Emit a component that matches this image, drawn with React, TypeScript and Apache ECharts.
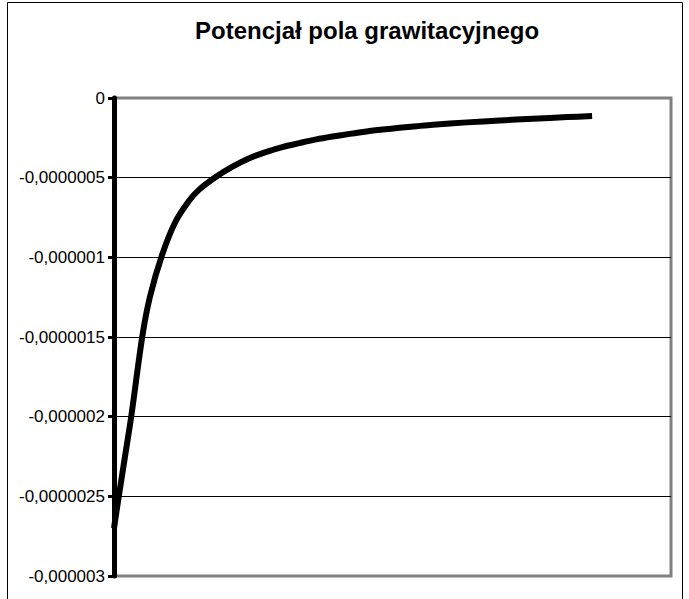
import React, { useEffect, useRef } from "react";
import * as echarts from "echarts";

const titleText = "Potencjał pola grawitacyjnego";

// distance (arbitrary units) and potential values
const distance = [
  0, 1, 2.3, 3.6, 5.9, 7.5, 10, 12.8, 15.7, 17.8, 21.2, 24.7, 28.3, 31.9, 35.2,
  38.8, 42.3, 45.7, 49.3, 52.8, 56.2, 59.7, 63.3, 66.7, 73.8, 80.7, 87.6, 94.8, 100,
];
const potential = [
  -2.7e-6, -2.5e-6, -2.25e-6, -2.0e-6, -1.5e-6, -1.25e-6, -0.99e-6, -0.78e-6,
  -0.645e-6, -0.575e-6, -0.497e-6, -0.432e-6, -0.378e-6, -0.338e-6, -0.308e-6,
  -0.283e-6, -0.26e-6, -0.242e-6, -0.225e-6, -0.21e-6, -0.198e-6, -0.187e-6,
  -0.177e-6, -0.168e-6, -0.153e-6, -0.141e-6, -0.13e-6, -0.12e-6, -0.113e-6,
];
const yTickLabels = [
  "0",
  "-0,0000005",
  "-0,000001",
  "-0,0000015",
  "-0,000002",
  "-0,0000025",
  "-0,000003",
];
const yStep = 5e-7;
const yMin = -3e-6;
const yMax = 0;
const xMax = 116.5;

export default function App() {
  const ref = useRef<HTMLDivElement>(null);
  useEffect(() => {
    if (!ref.current) return;
    const chart = echarts.init(ref.current, undefined, { renderer: "svg" });
    const font = "'Liberation Sans', Arial, sans-serif";
    chart.setOption({
      animation: false,
      backgroundColor: "#ffffff",
      title: {
        text: titleText,
        left: 190,
        top: 13,
        textStyle: {
          fontFamily: font,
          fontSize: 24,
          fontWeight: "bold",
          color: "#000",
        },
      },
      graphic: [
        {
          type: "rect",
          silent: true,
          shape: { x: 7.5, y: 2.5, width: 675, height: 620 },
          style: { fill: "none", stroke: "#000", lineWidth: 1 },
          z: 100,
        },
      ],
      grid: {
        left: 114,
        top: 98,
        right: 18,
        bottom: 23,
        show: true,
        borderColor: "#808080",
        borderWidth: 3,
        backgroundColor: "#fff",
      },
      xAxis: {
        type: "value",
        min: 0,
        max: xMax,
        axisLine: { show: false },
        axisTick: { show: false },
        axisLabel: { show: false },
        splitLine: { show: false },
      },
      yAxis: {
        type: "value",
        min: yMin,
        max: yMax,
        interval: yStep,
        axisLine: { show: true, lineStyle: { color: "#000", width: 5 } },
        axisTick: {
          show: true,
          inside: false,
          length: 6,
          lineStyle: { color: "#000", width: 3 },
        },
        axisLabel: {
          margin: 9,
          fontFamily: font,
          fontSize: 17,
          color: "#000",
          formatter: (v: number) => yTickLabels[Math.round(-v / yStep)] ?? "",
        },
        splitLine: {
          show: true,
          showMinLine: false,
          showMaxLine: false,
          lineStyle: { color: "#000", width: 1 },
        },
      },
      series: [
        {
          type: "line",
          data: distance.map((d, i) => [d, potential[i]]),
          showSymbol: false,
          smooth: 0.3,
          lineStyle: { color: "#000", width: 6 },
          clip: true,
        },
      ],
    });
    return () => chart.dispose();
  }, []);
  return (
    <div
      ref={ref}
      style={{ position: "fixed", left: 0, top: 0, width: 689, height: 599 }}
    />
  );
}
